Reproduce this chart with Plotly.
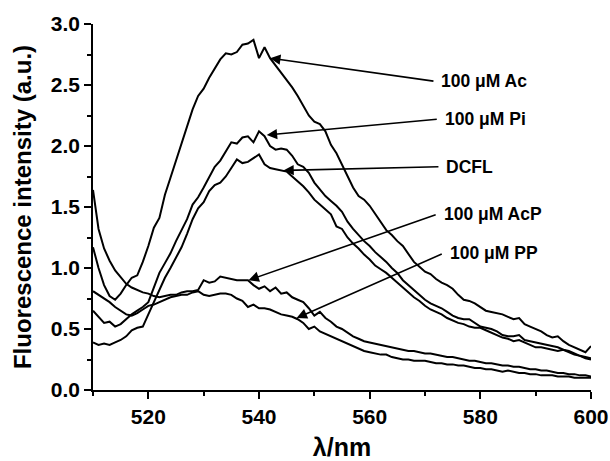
import plotly.graph_objects as go

wavelength = list(range(510, 601))

ac = [1.17, 1.00, 0.86, 0.77, 0.74, 0.79, 0.86, 0.92, 0.94, 1.05,
      1.18, 1.33, 1.41, 1.60, 1.74, 1.88, 2.01, 2.15, 2.30, 2.41,
      2.47, 2.56, 2.63, 2.71, 2.76, 2.75, 2.77, 2.83, 2.84, 2.87,
      2.72, 2.81, 2.72, 2.66, 2.60, 2.55, 2.48, 2.41, 2.33, 2.25,
      2.20, 2.18, 2.12, 2.01, 1.94, 1.85, 1.76, 1.66, 1.59, 1.56,
      1.51, 1.44, 1.38, 1.31, 1.27, 1.22, 1.18, 1.11, 1.05, 1.01,
      0.97, 0.95, 0.91, 0.88, 0.86, 0.83, 0.78, 0.74, 0.73, 0.71,
      0.68, 0.65, 0.64, 0.63, 0.62, 0.60, 0.58, 0.59, 0.54, 0.52,
      0.50, 0.48, 0.45, 0.43, 0.44, 0.40, 0.37, 0.35, 0.33, 0.31,
      0.36]

pi = [0.65, 0.60, 0.55, 0.56, 0.52, 0.54, 0.58, 0.62, 0.65, 0.68,
      0.72, 0.84, 0.96, 1.04, 1.12, 1.22, 1.31, 1.40, 1.52, 1.58,
      1.66, 1.74, 1.83, 1.88, 1.96, 2.03, 2.02, 2.07, 2.08, 2.03,
      2.12, 2.08, 2.00, 1.97, 1.98, 1.97, 1.92, 1.85, 1.83, 1.78,
      1.70, 1.64, 1.59, 1.55, 1.51, 1.46, 1.38, 1.32, 1.27, 1.22,
      1.18, 1.13, 1.09, 1.05, 1.00, 0.96, 0.90, 0.86, 0.82, 0.78,
      0.74, 0.71, 0.69, 0.67, 0.64, 0.61, 0.59, 0.58, 0.58, 0.55,
      0.52, 0.51, 0.50, 0.48, 0.45, 0.44, 0.44, 0.45, 0.41, 0.40,
      0.39, 0.38, 0.37, 0.36, 0.35, 0.33, 0.32, 0.30, 0.28, 0.27,
      0.26]

dcfl = [0.39, 0.37, 0.38, 0.37, 0.39, 0.41, 0.44, 0.49, 0.51, 0.52,
        0.62, 0.72, 0.82, 0.92, 1.00, 1.08, 1.17, 1.28, 1.40, 1.49,
        1.54, 1.63, 1.68, 1.70, 1.75, 1.82, 1.89, 1.86, 1.87, 1.90,
        1.93, 1.85, 1.82, 1.81, 1.80, 1.79, 1.75, 1.71, 1.67, 1.62,
        1.56, 1.52, 1.48, 1.44, 1.34, 1.32, 1.25, 1.20, 1.16, 1.11,
        1.07, 1.02, 0.99, 0.96, 0.92, 0.88, 0.84, 0.80, 0.76, 0.73,
        0.69, 0.66, 0.64, 0.62, 0.59, 0.57, 0.55, 0.54, 0.52, 0.51,
        0.51, 0.49, 0.47, 0.45, 0.43, 0.42, 0.40, 0.41, 0.39, 0.37,
        0.35, 0.35, 0.34, 0.33, 0.32, 0.33, 0.31, 0.29, 0.28, 0.26,
        0.25]

acp = [1.64, 1.32, 1.16, 1.06, 0.98, 0.92, 0.87, 0.84, 0.82, 0.80,
       0.79, 0.77, 0.76, 0.77, 0.78, 0.78, 0.80, 0.81, 0.81, 0.82,
       0.90, 0.88, 0.89, 0.93, 0.92, 0.91, 0.90, 0.90, 0.90, 0.86,
       0.83, 0.85, 0.81, 0.84, 0.79, 0.80, 0.76, 0.74, 0.72, 0.67,
       0.61, 0.64, 0.59, 0.56, 0.52, 0.50, 0.47, 0.44, 0.42, 0.40,
       0.39, 0.38, 0.37, 0.36, 0.35, 0.34, 0.33, 0.32, 0.32, 0.31,
       0.30, 0.30, 0.29, 0.28, 0.27, 0.27, 0.26, 0.25, 0.24, 0.24,
       0.23, 0.22, 0.22, 0.21, 0.20, 0.20, 0.19, 0.19, 0.18, 0.17,
       0.17, 0.16, 0.16, 0.15, 0.14, 0.14, 0.13, 0.13, 0.12, 0.12,
       0.11]

pp = [0.81, 0.78, 0.75, 0.72, 0.68, 0.65, 0.62, 0.61, 0.63, 0.66,
      0.69, 0.70, 0.72, 0.74, 0.76, 0.77, 0.78, 0.78, 0.80, 0.81,
      0.78, 0.77, 0.78, 0.79, 0.79, 0.78, 0.75, 0.73, 0.68, 0.70,
      0.67, 0.67, 0.66, 0.64, 0.62, 0.61, 0.60, 0.58, 0.55, 0.50,
      0.52, 0.48, 0.46, 0.44, 0.42, 0.40, 0.38, 0.36, 0.34, 0.32,
      0.31, 0.30, 0.29, 0.29, 0.27, 0.26, 0.25, 0.25, 0.24, 0.24,
      0.24, 0.23, 0.22, 0.22, 0.21, 0.21, 0.20, 0.20, 0.19, 0.18,
      0.18, 0.17, 0.17, 0.16, 0.15, 0.16, 0.15, 0.14, 0.14, 0.13,
      0.13, 0.12, 0.12, 0.12, 0.11, 0.11, 0.11, 0.10, 0.10, 0.10,
      0.10]

series = [("100 μM Ac", ac), ("100 μM Pi", pi), ("DCFL", dcfl),
          ("100 μM AcP", acp), ("100 μM PP", pp)]

# label text, arrow tip (x, y), arrow tail (x, y) in data units
labels = ["100 μM Ac", "100 μM Pi", "DCFL", "100 μM AcP", "100 μM PP"]
tip_x = [542.0, 541.4, 544.4, 538.1, 546.8]
tip_y = [2.72, 2.09, 1.80, 0.90, 0.59]
tail_x = [571.8, 572.4, 572.7, 572.2, 573.3]
tail_y = [2.53, 2.22, 1.83, 1.44, 1.12]

FONT = "Liberation Sans, Arial, sans-serif"

fig = go.Figure()
for name, vals in series:
    fig.add_trace(go.Scatter(x=wavelength, y=vals, mode="lines", name=name,
                             line=dict(color="black", width=2),
                             showlegend=False))

for lab, tx, ty, sx, sy in zip(labels, tip_x, tip_y, tail_x, tail_y):
    fig.add_annotation(x=tx, y=ty, ax=sx, ay=sy, xref="x", yref="y",
                       axref="x", ayref="y", text="", showarrow=True,
                       arrowhead=2, arrowsize=1.3, arrowwidth=1.6,
                       arrowcolor="black")
    fig.add_annotation(x=sx + 0.8, y=sy, xref="x", yref="y", text=lab,
                       showarrow=False, xanchor="left", yanchor="middle",
                       font=dict(family=FONT, size=17.5, color="black",
                                 weight="bold"))

fig.update_layout(
    width=610, height=461,
    margin=dict(l=93, r=19, t=24, b=71),
    paper_bgcolor="white", plot_bgcolor="white",
    font=dict(family=FONT, color="black"),
)
fig.update_xaxes(
    range=[510, 600], tick0=520, dtick=20, automargin=False,
    showline=True, linecolor="black", linewidth=1.5,
    ticks="outside", ticklen=7, tickwidth=1.5, tickcolor="black",
    minor=dict(dtick=10, tick0=510, ticks="outside", ticklen=4,
               tickwidth=1.5, tickcolor="black"),
    showgrid=False, zeroline=False,
    tickfont=dict(family=FONT, size=21, color="black", weight="bold"),
    title=dict(text="λ/nm", standoff=12,
               font=dict(family=FONT, size=25, color="black", weight="bold")),
)
fig.update_yaxes(
    range=[0, 3.0], tick0=0, dtick=0.5, tickformat=".1f", automargin=False,
    showline=True, linecolor="black", linewidth=1.5,
    ticks="outside", ticklen=7, tickwidth=1.5, tickcolor="black",
    minor=dict(dtick=0.25, ticks="outside", ticklen=4,
               tickwidth=1.5, tickcolor="black"),
    showgrid=False, zeroline=False,
    tickfont=dict(family=FONT, size=21, color="black", weight="bold"),
    title=dict(text="Fluorescence intensity (a.u.)", standoff=12,
               font=dict(family=FONT, size=24, color="black", weight="bold")),
)

fig.write_html("out.html")
